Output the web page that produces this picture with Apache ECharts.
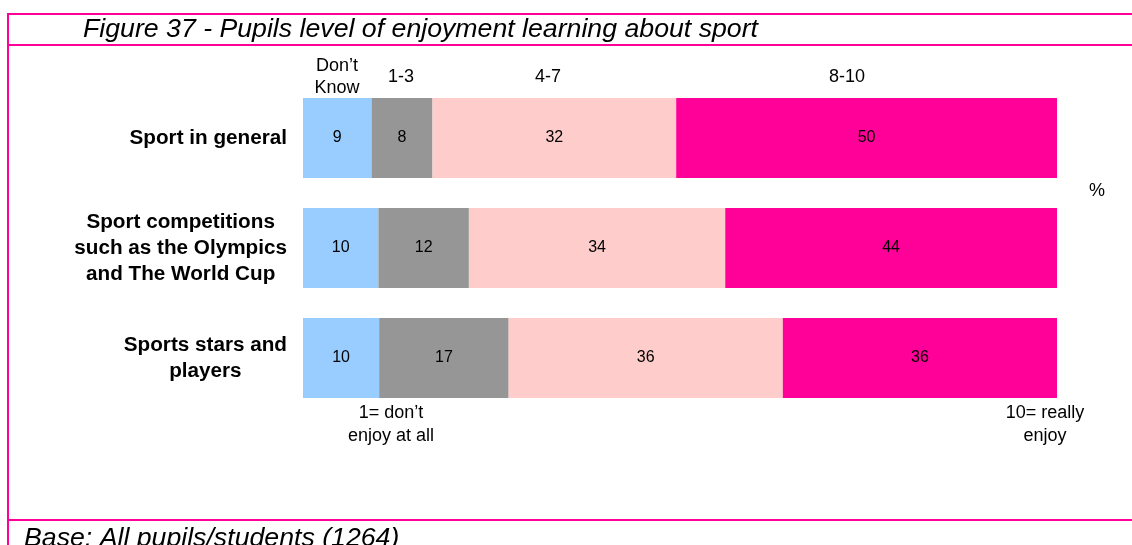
<!DOCTYPE html>
<html>
<head>
<meta charset="utf-8">
<script src="https://cdn.jsdelivr.net/npm/echarts@6/dist/echarts.min.js"></script>
<style>
html,body{margin:0;padding:0;background:#fff;}
#chart{width:1132px;height:545px;}
</style>
</head>
<body>
<div id="chart"></div>
<script>
// ---- Data ----
var categories = ['Sport in general', 'Sport competitions\nsuch as the Olympics\nand The World Cup', 'Sports stars and\nplayers'];
var seriesNames = ["Don\u2019t Know", '1-3', '4-7', '8-10'];
var dontKnow = [9, 10, 10];
var low13 = [8, 12, 17];
var mid47 = [32, 34, 36];
var high810 = [50, 44, 36];
var colors = ['#99CCFF', '#969696', '#FFCCCC', '#FF0099'];

var FONT = 'Liberation Sans, Arial, sans-serif';
var raw = [dontKnow, low13, mid47, high810];
var totals = categories.map(function (_, i) {
  return raw.reduce(function (s, arr) { return s + arr[i]; }, 0);
});

var series = raw.map(function (arr, k) {
  return {
    name: seriesNames[k],
    type: 'bar',
    stack: 'total',
    barWidth: 80,
    itemStyle: { color: colors[k] },
    label: {
      show: true,
      position: 'inside',
      color: '#000',
      fontFamily: FONT,
      fontSize: 16,
      formatter: function (p) { return arr[p.dataIndex]; }
    },
    data: arr.map(function (v, i) { return v / totals[i] * 100; })
  };
});

var chart = echarts.init(document.getElementById('chart'), null, { renderer: 'canvas' });
var pink = '#FF0099';
chart.setOption({
  animation: false,
  backgroundColor: '#fff',
  grid: { left: 303, width: 754, top: 83, height: 330, containLabel: false },
  xAxis: {
    type: 'value', min: 0, max: 100, show: false
  },
  yAxis: {
    type: 'category',
    inverse: true,
    data: categories,
    axisLine: { show: false },
    axisTick: { show: false },
    axisLabel: {
      margin: 16,
      align: 'right',
      formatter: function (v) {
        return v.split('\n').map(function (l) { return '{c|' + l + '}'; }).join('\n');
      },
      rich: {
        c: { align: 'center', fontFamily: FONT, fontWeight: 'bold', fontSize: 20.7, lineHeight: 26, color: '#000' }
      }
    }
  },
  series: series,
  graphic: [
    { type: 'rect', shape: { x: 8, y: 13, width: 1130, height: 2 }, style: { fill: pink } },
    { type: 'rect', shape: { x: 8, y: 44, width: 1130, height: 2 }, style: { fill: pink } },
    { type: 'rect', shape: { x: 8, y: 519, width: 1130, height: 2 }, style: { fill: pink } },
    { type: 'rect', shape: { x: 7, y: 13, width: 2, height: 540 }, style: { fill: pink } },
    { type: 'text', x: 83, y: 30, style: { text: 'Figure 37 - Pupils level of enjoyment learning about sport', font: 'italic 26.7px ' + FONT, fill: '#000', verticalAlign: 'middle', align: 'left' } },
    { type: 'text', x: 24, y: 539, style: { text: 'Base: All pupils/students (1264)', font: 'italic 26.7px ' + FONT, fill: '#000', verticalAlign: 'middle', align: 'left' } },
    { type: 'text', x: 337, y: 77, style: { text: 'Don\u2019t\nKnow', font: '18px ' + FONT, lineHeight: 22, fill: '#000', verticalAlign: 'middle', align: 'center' } },
    { type: 'text', x: 401, y: 77, style: { text: '1-3', font: '18px ' + FONT, fill: '#000', verticalAlign: 'middle', align: 'center' } },
    { type: 'text', x: 548, y: 77, style: { text: '4-7', font: '18px ' + FONT, fill: '#000', verticalAlign: 'middle', align: 'center' } },
    { type: 'text', x: 847, y: 77, style: { text: '8-10', font: '18px ' + FONT, fill: '#000', verticalAlign: 'middle', align: 'center' } },
    { type: 'text', x: 1097, y: 191, style: { text: '%', font: '18px ' + FONT, fill: '#000', verticalAlign: 'middle', align: 'center' } },
    { type: 'text', x: 391, y: 425, style: { text: '1= don\u2019t\nenjoy at all', font: '18px ' + FONT, lineHeight: 23, fill: '#000', verticalAlign: 'middle', align: 'center' } },
    { type: 'text', x: 1045, y: 425, style: { text: '10= really\nenjoy', font: '18px ' + FONT, lineHeight: 23, fill: '#000', verticalAlign: 'middle', align: 'center' } }
  ]
});
</script>
</body>
</html>
